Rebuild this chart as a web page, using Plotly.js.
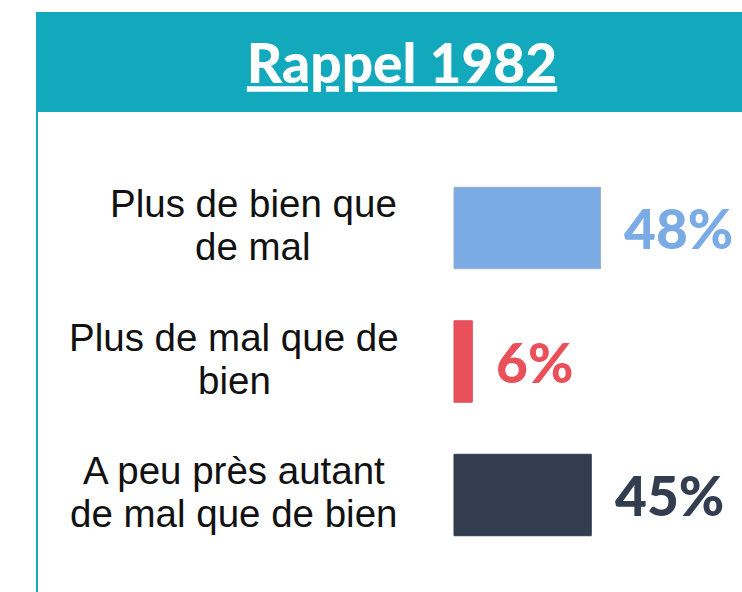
<!DOCTYPE html>
<html>
<head>
<meta charset="utf-8">
<script src="https://cdn.plot.ly/plotly-3.0.1.min.js"></script>
<style>html,body{margin:0;padding:0;background:#fff;}#chart{width:742px;height:592px;}</style>
</head>
<body>
<div id="chart"></div>
<script>
// ---- data ----
const chartTitle = 'Rappel 1982';
const categories = ['Plus de bien que<br>de mal', 'Plus de mal que de<br>bien', 'A peu près autant<br>de mal que de bien'];
const values = [48, 6, 45];
const valueLabels = ['48%', '6%', '45%'];

// ---- style ----
const W = 742, H = 592;
const barColors = ['#7AABE4', '#E9505A', '#323D4F'];
const barLines = ['#9AAFC8', '#D9505A', '#323D4F'];
const teal = '#13A9BD';
const labelCenters = [253, 234, 234]; // px, horizontal centers of category labels
const px = x => x / W;
const py = y => 1 - y / H;

const trace = {
  type: 'bar',
  orientation: 'h',
  x: values,
  y: categories,
  base: 0,
  width: 0.61,
  marker: {color: barColors, line: {color: barLines, width: 1}},
  hoverinfo: 'skip',
  showlegend: false
};

const annotations = [];
categories.forEach((c, i) => {
  const lines = c.split('<br>');
  lines.forEach((ln, j) => {
    annotations.push({
      xref: 'paper', yref: 'y', x: px(labelCenters[i]), y: c,
      xanchor: 'center', yanchor: 'middle',
      yshift: (j === 0 ? 1 : -1) * 21.5 + 3,
      text: ln, showarrow: false,
      font: {family: 'Liberation Sans, Arial, sans-serif', size: 38.5, color: '#111111'}
    });
  });
  annotations.push({
    xref: 'x', yref: 'y', x: values[i], y: c,
    xanchor: 'left', yanchor: 'middle', xshift: 22,
    text: valueLabels[i], showarrow: false,
    font: {family: 'Lato, sans-serif', size: 55, weight: 900, color: barColors[i]}
  });
});

const layout = {
  width: W, height: H,
  margin: {l: 0, r: 0, t: 0, b: 0},
  paper_bgcolor: '#ffffff', plot_bgcolor: 'rgba(0,0,0,0)',
  title: {
    text: '<u>' + chartTitle + '</u>',
    font: {family: 'Lato, sans-serif', size: 55, weight: 900, color: '#ffffff'},
    x: px(402), xref: 'paper', xanchor: 'center',
    y: py(64), yref: 'paper', yanchor: 'middle'
  },
  xaxis: {range: [-454 / 3.05, (W - 454) / 3.05], visible: false, fixedrange: true},
  yaxis: {type: 'category', range: [(H - 228) / 133.5, -228 / 133.5], visible: false, fixedrange: true},
  shapes: [
    {type: 'rect', xref: 'paper', yref: 'paper', x0: px(36), x1: 1, y0: py(112), y1: py(12),
     fillcolor: teal, line: {width: 0}, layer: 'below'},
    {type: 'line', xref: 'paper', yref: 'paper', x0: px(37), x1: px(37), y0: py(112), y1: 0,
     line: {color: teal, width: 2}, layer: 'below'}
  ],
  annotations: annotations
};

Plotly.newPlot('chart', [trace], layout, {displayModeBar: false, staticPlot: true});
</script>
</body>
</html>
